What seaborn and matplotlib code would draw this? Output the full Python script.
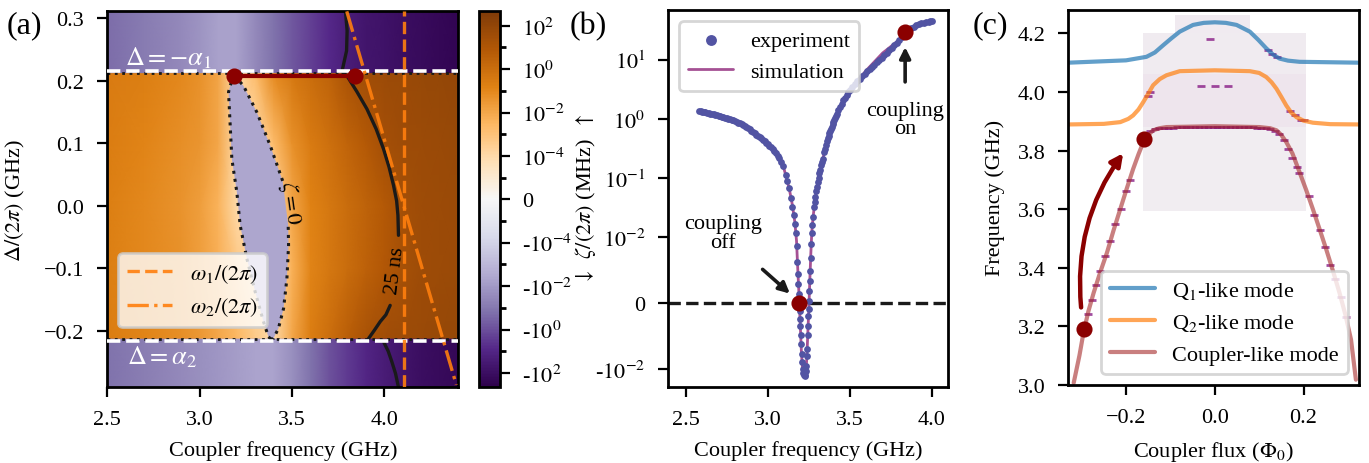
import numpy as np
import matplotlib
matplotlib.use('Agg')
import matplotlib.pyplot as plt
from matplotlib.colors import SymLogNorm
from matplotlib.patches import FancyArrowPatch
from matplotlib.ticker import FixedLocator
import seaborn as sns

# ---------------- data: panel (a) ----------------
coupler_freq_grid = [2.5, 2.7, 2.9, 3.0, 3.1, 3.2, 3.3, 3.4, 3.5, 3.6, 3.7, 3.8, 3.9, 4.0, 4.1, 4.2, 4.3, 4.4]
delta_band = [-0.213, -0.1, 0.0, 0.1, 0.213]
zeta_band = [
    [0.25, 0.12, 0.06, 0.03, 0.01, 0.003, 0.0005, 1e-4, 0.01, 0.25, 1.0, 5, 18, 35, 50, 60, 70, 80],
    [0.2, 0.1, 0.05, 0.02, 0.006, 0.0008, 1e-4, 1e-4, 0.005, 0.12, 0.4, 1.2, 3.5, 9, 22, 40, 50, 60],
    [0.2, 0.1, 0.045, 0.02, 0.004, 1e-4, 1e-4, 1e-4, 0.01, 0.15, 0.4, 1.2, 3, 8, 25, 40, 50, 60],
    [0.25, 0.13, 0.06, 0.04, 0.01, 1e-4, 1e-4, 0.002, 0.05, 0.3, 0.8, 2.5, 8, 25, 40, 50, 60, 70],
    [0.3, 0.2, 0.1, 0.05, 0.012, 1e-4, 0.002, 0.08, 0.4, 1.2, 3, 15, 35, 50, 60, 70, 80, 90],
]
delta_top = [0.213, 0.31]
zeta_top = [-0.2, -0.08, -0.03, -0.015, -0.006, -0.006, -0.03, -0.15, -0.6, -2, -8, -22, -45,
            -70, -110, -150, -200, -250]
delta_bottom = [-0.29, -0.213]
zeta_bottom = [-0.15, -0.07, -0.03, -0.02, -0.012, -0.008, -0.005, -0.005, -0.02, -0.15, -0.8,
               -3, -10, -25, -60, -100, -150, -200]
zeta_lens = -0.004

lens_left_x = [3.183, 3.156, 3.165, 3.174, 3.201, 3.219, 3.255, 3.30, 3.345, 3.372, 3.385]
lens_left_y = [0.210, 0.182, 0.129, 0.075, 0.022, -0.031, -0.084, -0.137, -0.185, -0.209, -0.213]
lens_right_lower_x = [3.385, 3.399, 3.426, 3.454, 3.472, 3.481, 3.479]
lens_right_lower_y = [-0.213, -0.212, -0.196, -0.164, -0.116, -0.063, -0.031]
lens_right_upper_x = [3.449, 3.381, 3.309, 3.237, 3.183]
lens_right_upper_y = [0.040, 0.097, 0.150, 0.192, 0.210]

ns25_top_x = [3.789, 3.798, 3.795, 3.771]
ns25_top_y = [0.311, 0.28, 0.248, 0.216]
ns25_upper_x = [3.775, 3.797, 3.850, 3.905, 3.955, 3.995, 4.025, 4.049, 4.066, 4.073, 4.076]
ns25_upper_y = [0.213, 0.208, 0.183, 0.155, 0.123, 0.091, 0.062, 0.033, 0.008, -0.015, -0.047]
ns25_lower_x = [4.031, 4.008, 3.977, 3.945, 3.914]
ns25_lower_y = [-0.159, -0.174, -0.185, -0.199, -0.212]
ns25_bottom_x = [3.995, 4.020, 4.040, 4.060, 4.076]
ns25_bottom_y = [-0.217, -0.232, -0.249, -0.268, -0.29]

alpha_edge = 0.216
band_edge = 0.213
omega1 = 4.107
omega2_x = [3.796, 4.389]
omega2_delta = [0.311, -0.286]
op_a_freq = [3.183, 3.842]
op_a_delta = [0.208, 0.208]

# ---------------- data: panel (b) ----------------
exp_freq = [2.58, 2.59, 2.60, 2.61, 2.62, 2.63, 2.64, 2.65, 2.66, 2.67, 2.68, 2.69, 2.70, 2.71,
            2.72, 2.73, 2.74, 2.75, 2.76, 2.77, 2.78, 2.79, 2.80, 2.81, 2.82, 2.83, 2.84, 2.85,
            2.86, 2.87, 2.88, 2.89, 2.90, 2.91, 2.92, 2.93, 2.94, 2.95, 2.96, 2.97, 2.98, 2.99,
            3.00, 3.01, 3.02, 3.03, 3.04, 3.05, 3.06, 3.07, 3.08,
            3.095, 3.11, 3.12, 3.13, 3.14, 3.15, 3.158, 3.165, 3.171, 3.176, 3.180, 3.184, 3.187,
            3.190, 3.193, 3.195, 3.197, 3.199, 3.201, 3.203, 3.206, 3.209, 3.212, 3.216, 3.220,
            3.224, 3.228, 3.232, 3.235, 3.238, 3.240, 3.243, 3.245, 3.248, 3.250, 3.252, 3.254,
            3.256, 3.258, 3.261, 3.264, 3.267, 3.271, 3.276, 3.282, 3.286, 3.29, 3.295,
            3.30, 3.305, 3.31, 3.315, 3.32, 3.325, 3.33, 3.335, 3.345, 3.35, 3.355, 3.36, 3.365,
            3.37, 3.375, 3.38, 3.385, 3.39, 3.395, 3.40, 3.405, 3.41, 3.415, 3.42, 3.43, 3.44,
            3.45, 3.46, 3.47, 3.48, 3.49, 3.50, 3.515, 3.53, 3.545, 3.56, 3.575, 3.59, 3.605,
            3.62, 3.635, 3.65, 3.665, 3.68, 3.695, 3.71, 3.725, 3.74, 3.755, 3.77, 3.785, 3.80,
            3.815, 3.83, 3.845, 3.86, 3.875, 3.89, 3.905, 3.92, 3.935, 3.95, 3.965, 3.98, 3.99,
            4.00]
exp_zeta = [1.38, 1.355, 1.33, 1.31, 1.29, 1.27, 1.25, 1.23, 1.21, 1.19, 1.17, 1.15, 1.13, 1.11,
            1.09, 1.07, 1.05, 1.03, 1.01, 0.99, 0.97, 0.945, 0.92, 0.895, 0.87, 0.845, 0.82, 0.79,
            0.76, 0.73, 0.70, 0.665, 0.63, 0.60, 0.57, 0.545, 0.52, 0.495, 0.47, 0.445, 0.42, 0.40,
            0.38, 0.355, 0.33, 0.31, 0.29, 0.265, 0.24, 0.215, 0.19,
            0.16, 0.115, 0.09, 0.068, 0.047, 0.033, 0.024, 0.017, 0.012, 0.0087, 0.0063, 0.0044,
            0.0029, 0.0014, 0.0, -0.0012, -0.0024, -0.0034, -0.0049, -0.0062, -0.0077, -0.0089,
            -0.0101, -0.0115, -0.0128, -0.0131, -0.0125, -0.0108, -0.0095, -0.0081, -0.0069,
            -0.0049, -0.0034, -0.0019, -0.0009, 0.0004, 0.0019, 0.0034, 0.0049, 0.0068, 0.0090,
            0.0120, 0.0160, 0.022, 0.032, 0.040, 0.048, 0.060,
            0.072, 0.085, 0.100, 0.12, 0.14, 0.165, 0.19, 0.21, 0.28, 0.31, 0.36, 0.42, 0.47,
            0.52, 0.57, 0.62, 0.68, 0.74, 0.81, 0.88, 0.96, 1.03, 1.11, 1.20, 1.40, 1.60,
            1.82, 2.05, 2.30, 2.55, 2.82, 3.1, 3.5, 3.9, 4.35, 4.8, 5.3, 5.8, 6.4,
            7.0, 7.6, 8.3, 9.1, 9.9, 10.9, 12.0, 13.2, 14.5, 16.0, 17.5, 19.5, 21.5,
            24.0, 26.5, 29.0, 31.5, 34.0, 36.0, 38.2, 40.0, 41.5, 42.5, 43.4, 44.0, 44.3,
            44.5]
sim_freq = [2.58, 2.7, 2.8, 2.9, 3.0, 3.05, 3.1, 3.13, 3.15, 3.165, 3.175, 3.183, 3.19, 3.197,
            3.205, 3.213, 3.22, 3.226, 3.232, 3.238, 3.244, 3.25, 3.256, 3.262, 3.268, 3.276,
            3.29, 3.31, 3.34, 3.38, 3.44, 3.5, 3.6, 3.7, 3.8, 3.9, 4.0]
sim_zeta = [1.38, 1.13, 0.92, 0.63, 0.38, 0.27, 0.14, 0.068, 0.035, 0.018, 0.0095, 0.005, 0.0014,
            -0.0028, -0.0075, -0.0112, -0.0132, -0.0135, -0.0118, -0.0082, -0.0045, -0.0009,
            0.0034, 0.0074, 0.012, 0.022, 0.048, 0.1, 0.24, 0.6, 1.6, 3.1, 6.6, 13.0, 21.5,
            37.5, 44.5]
op_b_freq = [3.193, 3.837]
op_b_zeta = [0.0, 29.0]

# ---------------- data: panel (c) ----------------
q1_flux = [-0.33, -0.2, -0.154, -0.135, -0.116, -0.098, -0.079, -0.049, -0.025, 0.0, 0.025,
           0.049, 0.079, 0.098, 0.116, 0.131, 0.146, 0.165, 0.191, 0.325]
q1_freq = [4.100, 4.108, 4.120, 4.135, 4.160, 4.183, 4.206, 4.229, 4.236, 4.238, 4.236, 4.229,
           4.206, 4.178, 4.149, 4.128, 4.114, 4.107, 4.103, 4.100]
q2_flux = [-0.33, -0.25, -0.213, -0.195, -0.184, -0.172, -0.161, -0.15, -0.139, -0.124, -0.109,
           -0.079, 0.0, 0.079, 0.1, 0.116, 0.128, 0.139, 0.15, 0.161, 0.172, 0.184, 0.2, 0.221,
           0.26, 0.325]
q2_freq = [3.889, 3.891, 3.897, 3.908, 3.920, 3.940, 3.966, 3.994, 4.023, 4.044, 4.057, 4.071,
           4.074, 4.071, 4.065, 4.051, 4.033, 4.011, 3.983, 3.954, 3.930, 3.914, 3.902, 3.895,
           3.890, 3.889]
cp_flux = [-0.318, -0.305, -0.296, -0.285, -0.273, -0.258, -0.243, -0.228, -0.213, -0.198, -0.184,
           -0.172, -0.161, -0.15, -0.139, -0.125, -0.109, 0.0, 0.101, 0.125, 0.139, 0.15, 0.161,
           0.175, 0.191, 0.206, 0.221, 0.236, 0.251, 0.266, 0.281, 0.295, 0.307, 0.318]
cp_freq = [3.006, 3.100, 3.177, 3.250, 3.314, 3.385, 3.451, 3.528, 3.600, 3.672, 3.737, 3.787,
           3.829, 3.853, 3.869, 3.876, 3.880, 3.883, 3.880, 3.876, 3.869, 3.853, 3.829, 3.790,
           3.726, 3.665, 3.600, 3.532, 3.463, 3.390, 3.314, 3.235, 3.154, 3.017]
peak_flux = [-0.285, -0.277, -0.268, -0.258, -0.248, -0.236, -0.224, -0.212, -0.2, -0.19,
             -0.155, -0.145, -0.135, -0.125, -0.115, -0.105, -0.095, -0.085, -0.075, -0.065,
             -0.055, -0.045, -0.035, -0.025, -0.015, -0.005, 0.005, 0.015, 0.025, 0.035, 0.045,
             0.055, 0.065, 0.075, 0.085, 0.095, 0.105, 0.115, 0.125, 0.135, 0.145, 0.155, 0.165,
             0.175, 0.185, 0.19, 0.2, 0.17, 0.18, 0.195, 0.12, 0.13, 0.14, -0.15, -0.145,
             -0.01, -0.03, 0.0, 0.03, 0.212, 0.224, 0.236, 0.248, 0.26, 0.272, 0.284, 0.296]
peak_freq = [3.24, 3.29, 3.34, 3.39, 3.44, 3.49, 3.55, 3.60, 3.66, 3.70,
             3.858, 3.866, 3.872, 3.876, 3.878, 3.878, 3.878, 3.879, 3.879, 3.879,
             3.879, 3.879, 3.879, 3.879, 3.879, 3.879, 3.879, 3.879, 3.879, 3.879, 3.879,
             3.879, 3.879, 3.879, 3.879, 3.878, 3.877, 3.876, 3.872, 3.866, 3.856, 3.836, 3.805,
             3.775, 3.745, 3.722, 3.905, 3.935, 3.92, 3.905, 4.145, 4.128, 4.118, 3.985, 4.0,
             4.18, 4.02, 4.02, 4.02, 3.645, 3.58, 3.53, 3.47, 3.41, 3.36, 3.30, 3.23]
spec_flux_main = [-0.161, 0.206]
spec_freq_main = [3.594, 3.88, 4.06, 4.2]
spec_level_main = [[0.015], [0.045], [0.02]]
spec_flux_top = [-0.09, 0.079]
spec_freq_top = [4.2, 4.263]
spec_level_top = [[0.025]]
op_c_flux = [-0.294, -0.16]
op_c_freq = [3.191, 3.84]

# ---------------- style ----------------
sns.set_theme(style='ticks')
plt.rcParams['font.family'] = ['Liberation Serif', 'DejaVu Serif']
plt.rcParams['mathtext.fontset'] = 'stix'
plt.rcParams.update({
    'font.size': 8, 'axes.labelsize': 8, 'xtick.labelsize': 8, 'ytick.labelsize': 8,
    'legend.fontsize': 8, 'axes.linewidth': 1.0, 'axes.edgecolor': 'black',
    'text.color': 'black', 'axes.labelcolor': 'black', 'xtick.color': 'black',
    'ytick.color': 'black', 'xtick.major.size': 3.5, 'ytick.major.size': 3.5,
    'xtick.minor.size': 2, 'ytick.minor.size': 2, 'xtick.major.width': 0.8,
    'ytick.major.width': 0.8, 'xtick.direction': 'out', 'ytick.direction': 'out',
    'xtick.major.pad': 4.8, 'ytick.major.pad': 4.8,
    'legend.framealpha': 0.8, 'legend.edgecolor': '0.8', 'legend.fancybox': True,
    'axes.grid': False,
})

fig = plt.figure(figsize=(6.845, 2.32), dpi=200)
ax1 = fig.add_axes([0.0784, 0.1631, 0.2564, 0.8103])
cax = fig.add_axes([0.3501, 0.1631, 0.0151, 0.8103])
ax2 = fig.add_axes([0.4882, 0.1631, 0.2045, 0.8131])
ax3 = fig.add_axes([0.7804, 0.1688, 0.2123, 0.8075])

orange = '#ff7f0e'
purple_dot = '#5254a3'

# ---------------- panel (a) ----------------
norm = SymLogNorm(linthresh=1e-5, linscale=0.9, vmin=-460, vmax=460, base=10)
cmap = plt.get_cmap('PuOr_r')

Xb, Yb = np.meshgrid(coupler_freq_grid, delta_band)
mesh = ax1.pcolormesh(Xb, Yb, np.array(zeta_band), norm=norm, cmap=cmap, shading='gouraud', zorder=0)
Xt, Yt = np.meshgrid(coupler_freq_grid, delta_top)
ax1.pcolormesh(Xt, Yt, np.array([zeta_top, zeta_top]), norm=norm, cmap=cmap, shading='gouraud', zorder=0)
Xd, Yd = np.meshgrid(coupler_freq_grid, delta_bottom)
ax1.pcolormesh(Xd, Yd, np.array([zeta_bottom, zeta_bottom]), norm=norm, cmap=cmap, shading='gouraud', zorder=0)

lens_x = lens_left_x + lens_right_lower_x + lens_right_upper_x
lens_y = lens_left_y + lens_right_lower_y + lens_right_upper_y
ax1.fill(lens_x, lens_y, color=cmap(norm(zeta_lens)), lw=0, zorder=1)
ax1.plot(lens_left_x, lens_left_y, ':', color='k', lw=1.1, zorder=2)
ax1.plot(lens_right_lower_x, lens_right_lower_y, ':', color='k', lw=1.1, zorder=2)
ax1.plot(lens_right_upper_x, lens_right_upper_y, ':', color='k', lw=1.1, zorder=2)
for y in [band_edge, -band_edge]:
    ax1.axhline(y, color='k', ls=':', lw=1.0, zorder=2)
for y in [alpha_edge, -alpha_edge]:
    ax1.axhline(y, color='white', ls='--', lw=1.3, zorder=3)

for xs, ys in [(ns25_top_x, ns25_top_y), (ns25_upper_x, ns25_upper_y),
               (ns25_lower_x, ns25_lower_y), (ns25_bottom_x, ns25_bottom_y)]:
    ax1.plot(xs, ys, color='k', lw=1.2, zorder=2)

ax1.axvline(omega1, color=orange, ls='--', lw=1.2, alpha=0.9, zorder=3, label=r'$\omega_1/(2\pi)$')
ax1.plot(omega2_x, omega2_delta, color=orange, ls='-.', lw=1.2, alpha=0.9, zorder=3,
         label=r'$\omega_2/(2\pi)$')
ax1.plot(op_a_freq, op_a_delta, color='darkred', lw=1.5, zorder=4)
ax1.plot(op_a_freq, op_a_delta, 'o', color='darkred', ms=4.8, zorder=5)

ax1.text(3.49, 0.006, r'$\zeta = 0$', rotation=-82, ha='center', va='center', fontsize=8, zorder=4)
ax1.text(4.058, -0.103, '25 ns', rotation=83, ha='center', va='center', fontsize=8, zorder=4)
ax1.text(2.598, 0.237, r'$\Delta = -\alpha_1$', color='white', ha='left', va='center', fontsize=9.5)
ax1.text(2.605, -0.241, r'$\Delta = \alpha_2$', color='white', ha='left', va='center', fontsize=9.5)

ax1.set_xlim(2.5, 4.4)
ax1.set_ylim(-0.29, 0.311)
ax1.set_xticks([2.5, 3.0, 3.5, 4.0])
ax1.set_yticks([-0.2, -0.1, 0.0, 0.1, 0.2, 0.3])
ax1.set_xlabel('Coupler frequency (GHz)')
ax1.set_ylabel(r'$\Delta/(2\pi)$ (GHz)')
ax1.xaxis.set_label_coords(0.5, -0.14)
ax1.yaxis.set_label_coords(-0.229, 0.5)
ax1.legend(loc='lower left', bbox_to_anchor=(0.0, 0.13))

cb = fig.colorbar(mesh, cax=cax)
cb.outline.set_linewidth(1.0)
cb.set_ticks([1e2, 1, 1e-2, 1e-4, 0, -1e-4, -1e-2, -1, -1e2])
cb.set_ticklabels([r'$10^{2}$', r'$10^{0}$', r'$10^{-2}$', r'$10^{-4}$', '0',
                   r'-$10^{-4}$', r'-$10^{-2}$', r'-$10^{0}$', r'-$10^{2}$'])
cb.ax.yaxis.set_minor_locator(FixedLocator([1e1, 1e-1, 1e-3, 1e-5, -1e-5, -1e-3, -1e-1, -1e1]))
cb.ax.tick_params(which='major', length=3.5, labelsize=8, pad=4.3)
cb.ax.tick_params(which='minor', length=2)

# ---------------- panel (b) ----------------
ax2.set_yscale('symlog', linthresh=1e-2, linscale=1.0)
sns.lineplot(x=sim_freq, y=sim_zeta, ax=ax2, color='#a55194', lw=1.0, sort=False,
             label='simulation', zorder=2)
sns.scatterplot(x=exp_freq, y=exp_zeta, ax=ax2, color=purple_dot, s=6, linewidth=0,
                label='experiment', zorder=3)
ax2.axhline(0, color='k', ls='--', lw=1.2, zorder=2)
ax2.plot(op_b_freq, op_b_zeta, 'o', color='darkred', ms=4.8, zorder=5)

ax2.text(2.73, 0.0119, 'coupling\noff', ha='center', va='center', linespacing=0.95)
ax2.annotate('', xy=(3.16, 0.0009), xytext=(2.943, 0.0057),
             arrowprops=dict(arrowstyle='-|>', color='k', lw=1.3, mutation_scale=8))
ax2.text(3.837, 0.98, 'coupling\non', ha='center', va='center', linespacing=0.95)
ax2.annotate('', xy=(3.837, 20.3), xytext=(3.837, 3.4),
             arrowprops=dict(arrowstyle='-|>', color='k', lw=1.3, mutation_scale=8))

ax2.set_xlim(2.394, 4.10)
ax2.set_ylim(-0.0204, 69)
ax2.set_xticks([2.5, 3.0, 3.5, 4.0])
ax2.set_yticks([-1e-2, 0, 1e-2, 1e-1, 1, 10])
ax2.set_yticklabels([r'-$10^{-2}$', '0', r'$10^{-2}$', r'$10^{-1}$', r'$10^{0}$', r'$10^{1}$'])
ax2.set_xlabel('Coupler frequency (GHz)')
ax2.set_ylabel(r'$\downarrow\;\;\zeta/(2\pi)$ (MHz) $\;\uparrow$')
ax2.xaxis.set_label_coords(0.5, -0.14)
ax2.yaxis.set_label_coords(-0.25, 0.5)
h, l = ax2.get_legend_handles_labels()
order = [l.index('experiment'), l.index('simulation')]
ax2.legend([h[i] for i in order], [l[i] for i in order], loc='upper left', markerscale=1.6)

# ---------------- panel (c) ----------------
spec_cmap = sns.light_palette('#7a0177', as_cmap=True)
ax3.pcolormesh(spec_flux_main, spec_freq_main, np.array(spec_level_main), cmap=spec_cmap,
               vmin=0, vmax=1, shading='flat', zorder=0)
ax3.pcolormesh(spec_flux_top, spec_freq_top, np.array(spec_level_top), cmap=spec_cmap,
               vmin=0, vmax=1, shading='flat', zorder=0)
ax3.plot(peak_flux, peak_freq, '_', color='#7a0177', ms=2.6, mew=1.0, alpha=0.7, zorder=1)

sns.lineplot(x=q1_flux, y=q1_freq, ax=ax3, color='#1f77b4', alpha=0.7, lw=1.5, sort=False,
             label=r'Q$_1$-like mode', zorder=2)
sns.lineplot(x=q2_flux, y=q2_freq, ax=ax3, color=orange, alpha=0.7, lw=1.5, sort=False,
             label=r'Q$_2$-like mode', zorder=2)
sns.lineplot(x=cp_flux, y=cp_freq, ax=ax3, color='brown', alpha=0.6, lw=1.5, sort=False,
             label='Coupler-like mode', zorder=2)
ax3.plot(op_c_flux, op_c_freq, 'o', color='darkred', ms=4.8, zorder=5)
arrow = FancyArrowPatch((-0.300, 3.245), (-0.199, 3.806), connectionstyle='arc3,rad=-0.2',
                        arrowstyle='-|>', mutation_scale=9, color='darkred', lw=1.6, zorder=4)
ax3.add_patch(arrow)

ax3.set_xlim(-0.33, 0.325)
ax3.set_ylim(3.0, 4.28)
ax3.set_xticks([-0.2, 0.0, 0.2])
ax3.set_yticks([3.0, 3.2, 3.4, 3.6, 3.8, 4.0, 4.2])
ax3.set_xlabel(r'Coupler flux ($\Phi_0$)')
ax3.set_ylabel('Frequency (GHz)')
ax3.xaxis.set_label_coords(0.5, -0.145)
ax3.yaxis.set_label_coords(-0.218, 0.5)
ax3.legend(loc='lower right')

# panel labels
fig.text(0.005, 0.975, '(a)', fontsize=11.5, ha='left', va='top')
fig.text(0.4164, 0.975, '(b)', fontsize=11.5, ha='left', va='top')
fig.text(0.7107, 0.975, '(c)', fontsize=11.5, ha='left', va='top')

fig.savefig('out.png', dpi=200)
